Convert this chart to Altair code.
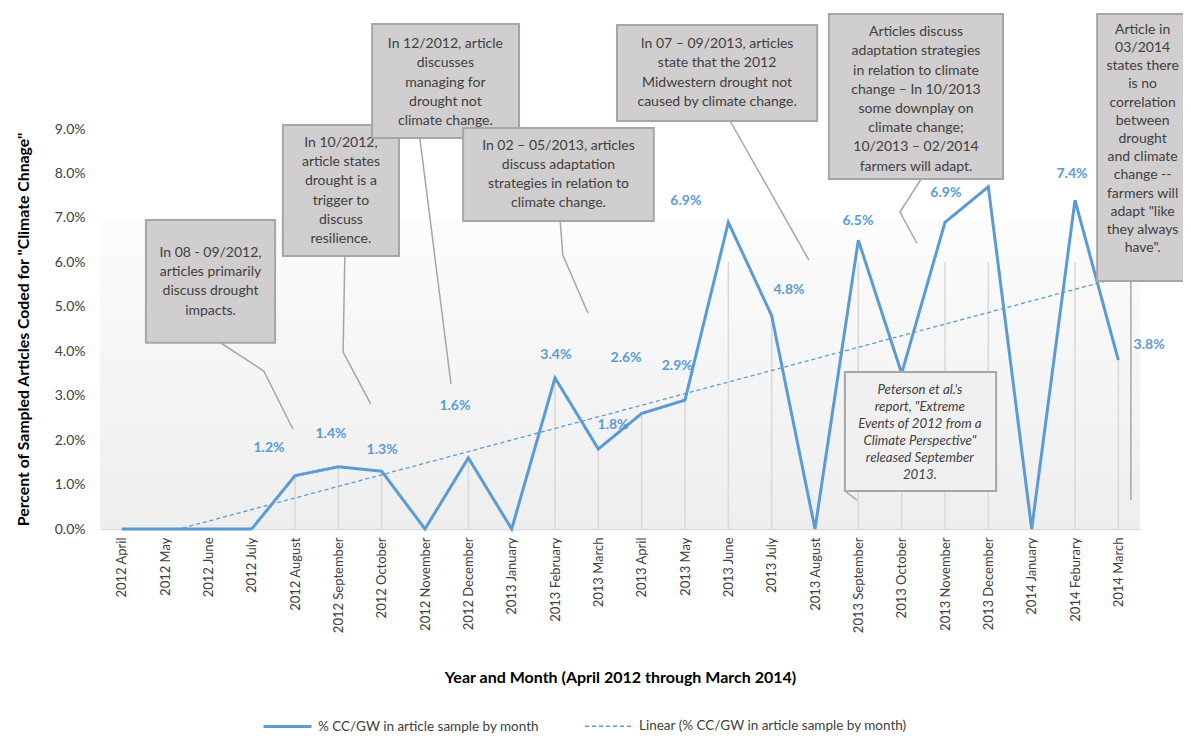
import altair as alt
import pandas as pd

# ---------------- data ----------------
months = ["2012 April", "2012 May", "2012 June", "2012 July", "2012 August",
          "2012 September", "2012 October", "2012 November", "2012 December",
          "2013 January", "2013 February", "2013 March", "2013 April", "2013 May",
          "2013 June", "2013 July", "2013 August", "2013 September", "2013 October",
          "2013 November", "2013 December", "2014 January", "2014 Feburary", "2014 March"]
values = [0, 0, 0, 0, 1.2, 1.4, 1.3, 0, 1.6, 0, 3.4, 1.8, 2.6, 2.9,
          6.9, 4.8, 0, 6.5, 3.5, 6.9, 7.7, 0, 7.4, 3.8]

SERIES = ["% CC/GW in article sample by month",
          "Linear (% CC/GW in article sample by month)"]

# data labels (which points carry a label, and where the label sits, in data units)
label_idx = [4, 5, 6, 8, 10, 11, 12, 13, 14, 15, 17, 19, 22, 23]
label_x = [3.40, 4.83, 6.01, 7.69, 10.02, 11.34, 11.64, 12.82, 13.02, 15.40, 16.99, 19.02, 21.93, 23.71]
label_y = [1.82, 2.14, 1.78, 2.77, 3.92, 2.34, 3.85, 3.67, 7.38, 5.38, 6.93, 7.56, 7.99, 4.14]

# callout texts
box_texts = [
    ["In 08 - 09/2012,", "articles primarily", "discuss drought", "impacts."],
    ["In 10/2012,", "article states", "drought is a", "trigger to", "discuss", "resilience."],
    ["In 12/2012, article", "discusses", "managing for", "drought not", "climate change."],
    ["In 02 \u2013 05/2013, articles", "discuss adaptation", "strategies in relation to", "climate change."],
    ["In 07 \u2013 09/2013, articles", "state that the 2012", "Midwestern drought not", "caused by climate change."],
    ["Articles discuss", "adaptation strategies", "in relation to climate", "change \u2013 In 10/2013",
     "some downplay on", "climate change;", "10/2013 \u2013 02/2014", "farmers will adapt."],
    ["Article in", "03/2014", "states there", "is no", "correlation", "between", "drought",
     "and climate", "change --", "farmers will", "adapt \"like", "they always", "have\"."],
    ["Peterson et al.'s", "report, \"Extreme", "Events of 2012 from a", "Climate Perspective\"",
     "released September", "2013."],
]
# callout layout in data units (x: month index, y: percent); text anchor = first line
box_x1 = [0.56, 3.72, 5.78, 7.88, 11.43, 16.32, 22.51, 16.69]
box_x2 = [3.54, 6.40, 9.17, 12.28, 16.05, 20.34, 24.90, 20.18]
box_y1 = [4.19, 6.14, 8.80, 6.93, 9.18, 7.875, 5.58, 0.855]
box_y2 = [6.95, 9.09, 11.36, 9.02, 11.34, 11.59, 11.59, 3.53]
text_x = [2.05, 5.06, 7.47, 10.08, 13.74, 18.33, 23.56, 18.42]
text_y = [6.21, 8.685, 10.91, 8.62, 10.91, 11.18, 11.23, 3.13]
box_fill = ["#d0cece"] * 7 + ["#f0f0f0"]

# leader lines (segment id, x, y) in data units
lead_seg = [0, 0, 0, 1, 1, 1, 2, 2, 3, 3, 3, 4, 4, 5, 5, 5, 6, 6, 7, 7]
lead_x = [2.29, 3.28, 3.95, 5.15, 5.11, 5.75, 6.88, 7.60, 10.12, 10.18, 10.76,
          14.04, 15.86, 18.45, 17.96, 18.35, 23.29, 23.29, 16.69, 16.97]
lead_y = [4.185, 3.555, 2.25, 6.14, 3.98, 2.81, 8.80, 3.26, 6.93, 6.165, 4.86,
          9.18, 6.05, 7.875, 7.13, 6.435, 5.58, 0.65, 0.855, 0.65]

# ---------------- styles ----------------
FONT = "Lato"
BLUE = "#5b9bd5"
TXT = "#404040"
GRAD_TOP = 6.95
DROP_CAP = 6.0

idx = list(range(len(months)))
df = pd.DataFrame({"idx": idx, "month": months, "value": values, "series": SERIES[0]})
lab_df = pd.DataFrame({"lx": label_x, "ly": label_y,
                       "txt": [f"{values[i]:.1f}%" for i in label_idx]})
box_df = pd.DataFrame({"id": list(range(len(box_texts))), "x1": box_x1, "x2": box_x2,
                       "y1": box_y1, "y2": box_y2, "tx": text_x, "ty": text_y,
                       "text": ["\n".join(t) for t in box_texts], "fill": box_fill})
lead_df = pd.DataFrame({"seg": lead_seg, "ord": list(range(len(lead_seg))), "x": lead_x, "y": lead_y})
grad_df = pd.DataFrame({"x1": [-0.5], "x2": [23.5], "y1": [0], "y2": [GRAD_TOP]})

xs = alt.Scale(domain=[-0.5, 23.5], nice=False, zero=False)
ys = alt.Scale(domain=[0, 9], nice=False, zero=False)

label_expr = "[" + ",".join("'%s'" % m for m in months) + "][datum.value]"

x_axis = alt.Axis(values=idx, labelExpr=label_expr, labelAngle=-90, labelAlign="right",
                  labelBaseline="middle", labelPadding=8, ticks=False, grid=False,
                  domainColor="#d9d9d9", domainWidth=1.5, labelOverlap=False, labelFlush=False,
                  labelFont=FONT, labelFontSize=13, labelColor=TXT,
                  title="Year and Month (April 2012 through March 2014)",
                  titleFont=FONT, titleFontSize=16, titleFontWeight="bold", titleColor="#000000",
                  titlePadding=37)
y_axis = alt.Axis(values=list(range(10)), labelExpr="format(datum.value, '.1f') + '%'",
                  domain=False, ticks=False, grid=False, labelPadding=15,
                  labelFont=FONT, labelFontSize=14, labelColor=TXT,
                  title="Percent of Sampled Articles Coded for \"Climate Chnage\"",
                  titleFont=FONT, titleFontSize=15.8, titleFontWeight="bold", titleColor="#000000",
                  titlePadding=23)


def X(field):
    return alt.X(field, scale=xs, axis=x_axis)


def Y(field):
    return alt.Y(field, scale=ys, axis=y_axis)


legend = alt.Legend(title=None, orient="none", legendX=162, legendY=572, direction="horizontal",
                    symbolType="stroke", symbolSize=2304, columnPadding=42, labelFont=FONT,
                    labelFontSize=13.5, labelColor=TXT, labelOffset=5, labelLimit=500)
color_enc = alt.Color("series:N", scale=alt.Scale(domain=SERIES, range=[BLUE, BLUE]), legend=legend)
dash_enc = alt.StrokeDash("series:N", scale=alt.Scale(domain=SERIES, range=[[1, 0], [4, 3]]), legend=legend)
width_enc = alt.StrokeWidth("series:N", scale=alt.Scale(domain=SERIES, range=[3, 1.3]), legend=legend)

background = alt.Chart(grad_df).mark_rect(
    fill=alt.LinearGradient(gradient="linear",
                            stops=[alt.GradientStop(color="#fcfcfc", offset=0),
                                   alt.GradientStop(color="#eeeeee", offset=1)],
                            x1=0, x2=0, y1=0, y2=1)
).encode(x=X("x1:Q"), x2="x2", y=Y("y1:Q"), y2="y2")

drops = alt.Chart(df).transform_filter("datum.value > 0").transform_calculate(
    top=f"min(datum.value, {DROP_CAP})"
).mark_rule(color="#d9d9d9", strokeWidth=1.5).encode(
    x=X("idx:Q"), y=Y("top:Q"), y2=alt.datum(0))

trend = alt.Chart(df).transform_regression("idx", "value", method="linear").transform_calculate(
    series=f"'{SERIES[1]}'"
).mark_line(clip=True).encode(
    x=X("idx:Q"), y=Y("value:Q"),
    color=color_enc, strokeDash=dash_enc, strokeWidth=width_enc)

main = alt.Chart(df).mark_line(strokeJoin="miter").encode(
    x=X("idx:Q"), y=Y("value:Q"),
    color=color_enc, strokeDash=dash_enc, strokeWidth=width_enc)

labels = alt.Chart(lab_df).mark_text(font=FONT, fontSize=14, fontWeight="bold", color=BLUE,
                                     align="center", baseline="middle").encode(
    x=X("lx:Q"), y=Y("ly:Q"), text="txt:N")

leaders = alt.Chart(lead_df).mark_line(color="#a6a6a6", strokeWidth=1.5).encode(
    x=X("x:Q"), y=Y("y:Q"), detail="seg:N", order="ord:Q")

layers = [background, drops, trend, main, labels, leaders]
for i in range(len(box_texts)):
    sub = box_df[box_df["id"] == i]
    rect = alt.Chart(sub).mark_rect(fill=box_fill[i], stroke="#a6a6a6", strokeWidth=2).encode(
        x=X("x1:Q"), x2="x2", y=Y("y1:Q"), y2="y2")
    if i == 7:
        tmark = alt.Chart(sub).mark_text(font=FONT, fontSize=13.3, fontStyle="italic", color=TXT,
                                         lineBreak="\n", lineHeight=17, align="center", baseline="middle")
    elif i == 6:
        tmark = alt.Chart(sub).mark_text(font=FONT, fontSize=14, color=TXT,
                                         lineBreak="\n", lineHeight=18.2, align="center", baseline="middle")
    else:
        tmark = alt.Chart(sub).mark_text(font=FONT, fontSize=14, color=TXT,
                                         lineBreak="\n", lineHeight=19.2, align="center", baseline="middle")
    txt = tmark.encode(x=X("tx:Q"), y=Y("ty:Q"), text="text:N")
    layers += [rect, txt]

chart = alt.layer(*layers).properties(
    width=1040, height=400,
    autosize=alt.AutoSizeParams(type="none"),
    padding={"left": 92, "top": 121, "right": 43, "bottom": 207},
    background="#ffffff",
).configure(font=FONT).configure_view(stroke=None)

chart.save("out.html", embed_options={"renderer": "svg", "actions": False})
